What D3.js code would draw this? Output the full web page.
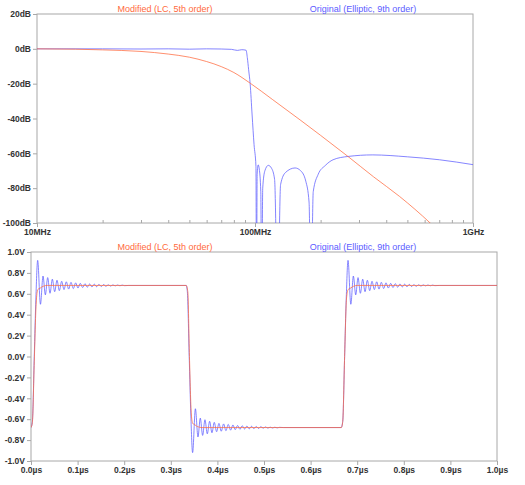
<!DOCTYPE html>
<html><head><meta charset="utf-8">
<script src="https://cdn.jsdelivr.net/npm/d3@7"></script>
<style>body{margin:0;background:#fff}text{font-family:Arial,"Liberation Sans",sans-serif}</style>
</head><body><svg id="c" width="525" height="485"></svg>
<script>
// frequency response: [MHz, dB]  (nulls given as -150, clipped at -100)
const lcResponse = [[10,0],[15,-0.2],[20,-0.6],[30,-1.5],[40,-3],[50,-4.8],[60,-7.3],[70,-10.2],[80,-13.6],[95,-19.7],[120,-29],[161,-40.8],[200,-49.7],[267,-61.8],[350,-73.5],[461,-84.8],[636,-100],[700,-105]];
const ellipticResponse = [[10,0],[20,0],[30,-0.1],[40,0],[50,-0.2],[60,0],[70,-0.1],[78,-0.3],[83,-0.9],[87,-0.5],[91,-0.8],[92.2,-5],[93.5,-12],[95,-20],[97,-38],[99,-55],[101,-67.5],[101.6,-150],[102.3,-72],[103.4,-66.6],[104.6,-69],[106.3,-82],[107.4,-150],[108.5,-80],[111,-70],[115.1,-66.9],[119,-68.5],[123,-75],[127.1,-150],[131,-78],[138,-71],[152.7,-68.4],[162,-70],[171,-76],[177,-88],[180.6,-150],[185,-82],[195,-72],[210,-67],[228,-63.7],[267,-61.8],[347,-60.9],[500,-62],[702,-63.7],[1000,-66.5]];
const freqTicks = [10,100,1000];
const freqLabels = ["10MHz","100MHz","1GHz"];
const freqMinor = [20,30,40,50,60,70,80,90,200,300,400,500,600,700,800,900];
const dbTicks = [20,0,-20,-40,-60,-80,-100];

// transient: [µs, V]
const lcWave = [[0,-0.68],[0.003,-0.63],[0.007,-0.05],[0.011,0.5],[0.0145,0.64],[0.02,0.655],[0.026,0.672],[0.035,0.68],[0.05,0.68],[0.333,0.68],[0.3365,0.62],[0.34,0],[0.344,-0.55],[0.347,-0.64],[0.352,-0.655],[0.358,-0.672],[0.367,-0.68],[0.666,-0.68],[0.669,-0.62],[0.673,0],[0.677,0.55],[0.6805,0.64],[0.686,0.655],[0.692,0.672],[0.7,0.68],[1.0,0.68]];
const ellipticWave = [[0,-0.68],[0.003,-0.62],[0.007,0.0],[0.0105,0.56],[0.0143,0.92],[0.0203,0.50],[0.0258,0.77],[0.0308,0.59],[0.0358,0.755],[0.0408,0.605],[0.0458,0.74],[0.0508,0.62],[0.0558,0.73],[0.0608,0.63],[0.0658,0.72],[0.0708,0.64],[0.0758,0.715],[0.0808,0.645],[0.0858,0.71],[0.0908,0.65],[0.0958,0.705],[0.1008,0.655],[0.1058,0.70],[0.1108,0.66],[0.1158,0.697],[0.1208,0.663],[0.1258,0.694],[0.1308,0.666],[0.1358,0.692],[0.1408,0.668],[0.1458,0.69],[0.1508,0.67],[0.1558,0.688],[0.1608,0.672],[0.1658,0.686],[0.1708,0.674],[0.1758,0.685],[0.1808,0.676],[0.1858,0.684],[0.1908,0.677],[0.1958,0.683],[0.2008,0.678],[0.21,0.68],[0.333,0.68],
[0.3355,0.62],[0.3395,0.0],[0.343,-0.56],[0.3468,-0.92],[0.3528,-0.50],[0.3583,-0.77],[0.3633,-0.59],[0.3683,-0.755],[0.3733,-0.605],[0.3783,-0.74],[0.3833,-0.62],[0.3883,-0.73],[0.3933,-0.63],[0.3983,-0.72],[0.4033,-0.64],[0.4083,-0.715],[0.4133,-0.645],[0.4183,-0.71],[0.4233,-0.65],[0.4283,-0.705],[0.4333,-0.655],[0.4383,-0.70],[0.4433,-0.66],[0.4483,-0.697],[0.4533,-0.663],[0.4583,-0.694],[0.4633,-0.666],[0.4683,-0.692],[0.4733,-0.668],[0.4783,-0.69],[0.4833,-0.67],[0.4883,-0.688],[0.4933,-0.672],[0.4983,-0.686],[0.5033,-0.674],[0.5083,-0.685],[0.5133,-0.676],[0.5183,-0.684],[0.5233,-0.677],[0.5283,-0.683],[0.5333,-0.678],[0.5425,-0.68],[0.6655,-0.68],
[0.669,-0.62],[0.673,0.0],[0.6765,0.56],[0.6803,0.92],[0.6863,0.50],[0.6918,0.77],[0.6968,0.59],[0.7018,0.755],[0.7068,0.605],[0.7118,0.74],[0.7168,0.62],[0.7218,0.73],[0.7268,0.63],[0.7318,0.72],[0.7368,0.64],[0.7418,0.715],[0.7468,0.645],[0.7518,0.71],[0.7568,0.65],[0.7618,0.705],[0.7668,0.655],[0.7718,0.70],[0.7768,0.66],[0.7818,0.697],[0.7868,0.663],[0.7918,0.694],[0.7968,0.666],[0.8018,0.692],[0.8068,0.668],[0.8118,0.69],[0.8168,0.67],[0.8218,0.688],[0.8268,0.672],[0.8318,0.686],[0.8368,0.674],[0.8418,0.685],[0.8468,0.676],[0.8518,0.684],[0.8568,0.677],[0.8618,0.683],[0.8668,0.678],[0.876,0.68],[1.0,0.68]];
const timeTicks = [0,0.1,0.2,0.3,0.4,0.5,0.6,0.7,0.8,0.9,1.0];
const voltTicks = [1,0.8,0.6,0.4,0.2,0,-0.2,-0.4,-0.6,-0.8,-1];

const seriesNames = ["Modified (LC, 5th order)", "Original (Elliptic, 9th order)"];
const orange = "#ff6a3d", blue = "#5c5cff";

const svg = d3.select("#c");

function panel(x0, x1, y0, y1, xScale, yScale, xTicks, xFmt, yTicks, yFmt, minor, traces, titleY) {
  const g = svg.append("g");
  g.append("rect").attr("x", x0).attr("y", y0).attr("width", x1 - x0).attr("height", y1 - y0)
    .attr("fill", "none").attr("stroke", "#a8a8a8");
  const ax = g.append("g").attr("transform", `translate(0,${y1})`)
    .call(d3.axisBottom(xScale).tickValues(xTicks).tickFormat(xFmt).tickSize(4).tickPadding(2));
  const ay = g.append("g").attr("transform", `translate(${x0},0)`)
    .call(d3.axisLeft(yScale).tickValues(yTicks).tickFormat(yFmt).tickSize(4).tickPadding(2));
  [ax, ay].forEach(a => {
    a.select(".domain").remove();
    a.selectAll("line").attr("stroke", "#a8a8a8");
    a.selectAll("text").attr("fill", "#333").attr("font-size", 8.5).attr("font-weight", "bold");
  });
  if (minor) {
    g.append("g").attr("transform", `translate(0,${y1})`)
      .call(d3.axisBottom(xScale).tickValues(minor).tickFormat("").tickSize(-3))
      .call(a => { a.select(".domain").remove(); a.selectAll("line").attr("stroke", "#a8a8a8"); });
  }
  const clip = "clip" + Math.round(y0);
  g.append("clipPath").attr("id", clip).append("rect")
    .attr("x", x0).attr("y", y0).attr("width", x1 - x0).attr("height", y1 - y0);
  traces.forEach(t => {
    g.append("path").datum(t.data).attr("clip-path", `url(#${clip})`)
      .attr("fill", "none").attr("stroke", t.color).attr("stroke-width", 1).attr("stroke-opacity", 0.75)
      .attr("d", d3.line().x(d => xScale(d[0])).y(d => yScale(d[1])).curve(d3.curveMonotoneX));
  });
  g.append("text").attr("x", 165).attr("y", titleY).attr("text-anchor", "middle")
    .attr("font-size", 9).attr("fill", orange).text(seriesNames[0]);
  g.append("text").attr("x", 363).attr("y", titleY).attr("text-anchor", "middle")
    .attr("font-size", 9).attr("fill", blue).text(seriesNames[1]);
}

const fx = d3.scaleLog().domain([10, 1000]).range([37, 473]);
const fy = d3.scaleLinear().domain([-100, 20]).range([223, 14]);
panel(37, 473, 14, 223, fx, fy, freqTicks, (d, i) => freqLabels[i], dbTicks, d => d + "dB", freqMinor,
  [{data: ellipticResponse, color: blue}, {data: lcResponse, color: orange}], 12);

const tx = d3.scaleLinear().domain([0, 1]).range([31, 497]);
const ty = d3.scaleLinear().domain([-1, 1]).range([461, 252]);
panel(31, 497, 252, 461, tx, ty, timeTicks, d => d.toFixed(1) + "µs", voltTicks, d => d.toFixed(1) + "V", null,
  [{data: ellipticWave, color: blue}, {data: lcWave, color: orange}], 250);
</script></body></html>
